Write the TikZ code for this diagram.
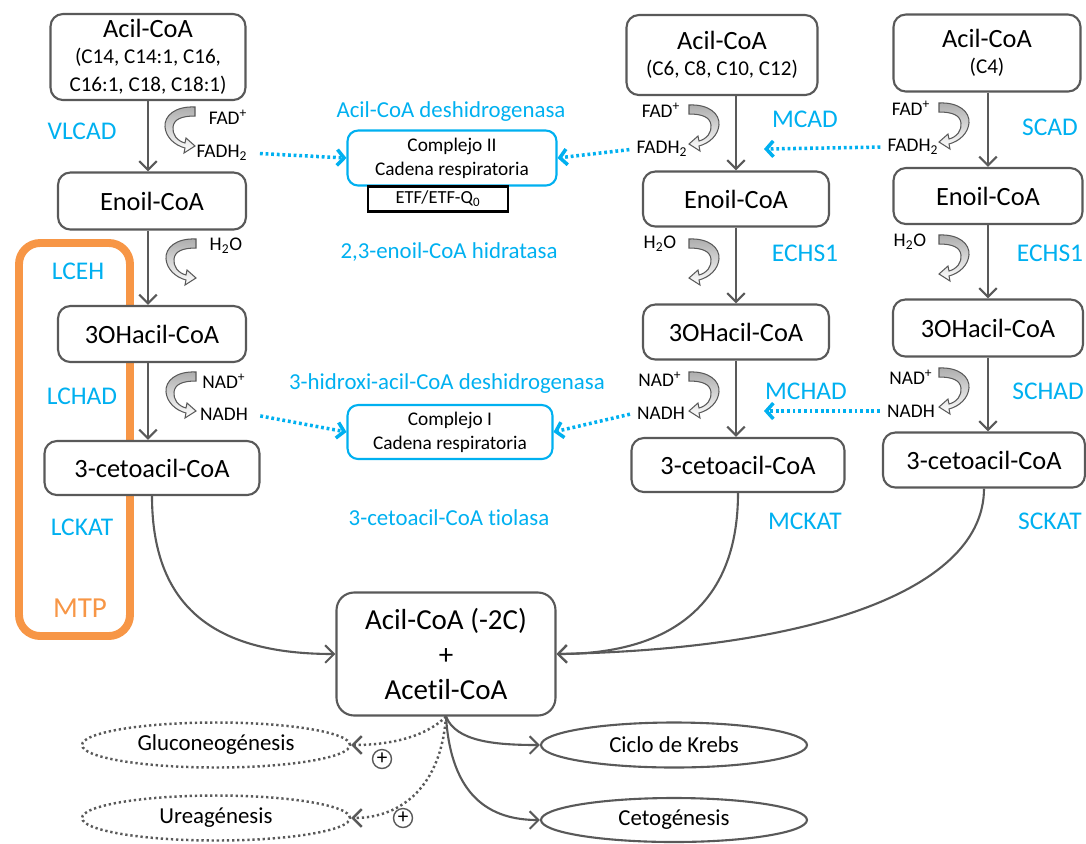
\documentclass[tikz,border=0pt]{standalone}
\usepackage{fontspec}
\setmainfont{Carlito}[Ligatures=NoCommon]
\usetikzlibrary{arrows.meta,shapes.geometric}
\definecolor{enzblue}{HTML}{00B0F0}
\definecolor{mtporange}{HTML}{F79646}
\definecolor{linegray}{HTML}{595959}
\newcommand\cofsz{\fontsize{11}{13}\selectfont}
\newcommand\chainsz{\fontsize{12}{13.6}\selectfont}
\tikzset{
  met/.style={draw=linegray, line width=1.2pt, rounded corners=7pt, fill=white,
    align=center, inner sep=0pt, font=\fontsize{15}{16}\selectfont},
  resp/.style={draw=enzblue, line width=1.2pt, rounded corners=6pt, fill=white,
    align=center, inner sep=0pt, font=\fontsize{11}{13.6}\selectfont},
  enz/.style={text=enzblue, font=\fontsize{14.5}{17}\selectfont},
  enzname/.style={text=enzblue, font=\fontsize{13}{15}\selectfont},
  cof/.style={inner sep=1pt, font=\cofsz},
  fate/.style={ellipse, draw=linegray, line width=1.2pt, inner sep=0pt,
    minimum width=5.32cm, minimum height=0.9cm, font=\fontsize{13}{15}\selectfont},
  dots/.style={line width=1.4pt, dash pattern=on 1.3pt off 1.6pt},
  flow/.style={draw=linegray, line width=1.2pt, -{Straight Barb[length=5pt,width=10pt]}},
  redox/.style={draw=enzblue, line width=2pt, dash pattern=on 1.6pt off 1.6pt,
    -{Straight Barb[length=4pt,width=9pt]}},
  cycarrow/.pic={
    \draw[linegray, line width=0.6pt, top color=gray!65, bottom color=white]
      (15,-21) .. controls (-5,-22) and (-16,-12) .. (-15,-1)
      .. controls (-14,9) and (-6,17) .. (5,20)
      -- (4,25) -- (15,18) -- (6,10) -- (5,15)
      .. controls (-3,13) and (-8,6) .. (-7,-1)
      .. controls (-6,-9) and (2,-12) .. (15,-12) -- cycle;
  }
}

\begin{document}
\begin{tikzpicture}[x=0.02cm, y=-0.02cm]
  \useasboundingbox (0,0) rectangle (1086,843);

  % MTP frame
  \draw[mtporange, line width=4.5pt, rounded corners=12pt] (19,243) rectangle (130,636);

  % Long chain
  \node[met, minimum width=3.9cm, minimum height=1.72cm] (acilL) at (148,57)
    {Acil-CoA\\[-1.5pt]{\chainsz (C14, C14:1, C16,}\\{\chainsz C16:1, C18, C18:1)}};
  \node[met, minimum width=3.76cm, minimum height=1.14cm] (enoilL) at (152,201) {Enoil-CoA};
  \node[met, minimum width=3.76cm, minimum height=1.12cm] (ohL) at (152,334) {3OHacil-CoA};
  \node[met, minimum width=4.3cm, minimum height=1.08cm] (cetoL) at (152,468) {3-cetoacil-CoA};

  % Medium chain
  \node[met, minimum width=3.82cm, minimum height=1.6cm] (acilM) at (722,55)
    {Acil-CoA\\[-1.4pt]{\chainsz (C6, C8, C10, C12)}};
  \node[met, minimum width=3.72cm, minimum height=1.1cm] (enoilM) at (736,199) {Enoil-CoA};
  \node[met, minimum width=3.72cm, minimum height=1.1cm] (ohM) at (736,332) {3OHacil-CoA};
  \node[met, minimum width=4.26cm, minimum height=1.08cm] (cetoM) at (738,465) {3-cetoacil-CoA};

  % Short chain
  \node[met, minimum width=3.74cm, minimum height=1.54cm] (acilS) at (987,53)
    {Acil-CoA\\[-1.4pt]{\chainsz (C4)}};
  \node[met, minimum width=3.78cm, minimum height=1.12cm] (enoilS) at (988,196) {Enoil-CoA};
  \node[met, minimum width=3.8cm, minimum height=1.14cm] (ohS) at (988,328) {3OHacil-CoA};
  \node[met, minimum width=4.04cm, minimum height=1.1cm] (cetoS) at (984,460) {3-cetoacil-CoA};

  % Product
  \node[met, rounded corners=10pt, minimum width=4.38cm, minimum height=2.46cm,
    font=\fontsize{16.5}{19.8}\selectfont] (prod) at (446,654) {Acil-CoA (-2C)\\+\\Acetil-CoA};

  % Respiratory chain
  \node[resp, minimum width=4.18cm, minimum height=1.1cm] (cII) at (452,158)
    {Complejo II\\Cadena respiratoria};
  \node[draw=black, line width=1.4pt, fill=white, inner sep=0pt, minimum width=2.8cm,
    minimum height=0.5cm, font=\fontsize{10.5}{12}\selectfont] (etf) at (438,199)
    {ETF/ETF-Q\textsubscript{0}};
  \node[resp, minimum width=4.1cm, minimum height=1.08cm] (cI) at (450,432)
    {Complejo I\\Cadena respiratoria};

  % Fates
  \node[fate] (krebs) at (674,745) {Ciclo de Krebs};
  \node[fate, minimum height=0.88cm] (cetog) at (674,820) {Cetogénesis};
  \node[fate, dots, minimum width=5.36cm] (gluco) at (216,745) {Gluconeogénesis};
  \node[fate, dots, minimum width=5.36cm] (urea) at (216,818) {Ureagénesis};
  \node[circle, draw=linegray, line width=0.8pt, inner sep=0pt, minimum size=0.38cm,
    font=\fontsize{12}{12}\selectfont] (plusG) at (382,759) {+};
  \node[circle, draw=linegray, line width=0.8pt, inner sep=0pt, minimum size=0.38cm,
    font=\fontsize{12}{12}\selectfont] (plusU) at (403,818) {+};

  % Enzymes
  \node[enz] (vlcad) at (82,131) {VLCAD};
  \node[enz] (lceh) at (78,271) {LCEH};
  \node[enz] (lchad) at (82,396) {LCHAD};
  \node[enz] (lckat) at (82,527) {LCKAT};
  \node[text=mtporange, font=\fontsize{16.5}{18}\selectfont] (mtp) at (80,608) {MTP};
  \node[enz] (mcad) at (805,119) {MCAD};
  \node[enz] (echsM) at (805,253) {ECHS1};
  \node[enz] (mchad) at (806,391) {MCHAD};
  \node[enz] (mckat) at (805,521) {MCKAT};
  \node[enz] (scad) at (1050,127) {SCAD};
  \node[enz] (echsS) at (1050,253) {ECHS1};
  \node[enz, anchor=east, inner xsep=1pt] (schad) at (1086,391) {SCHAD};
  \node[enz] (sckat) at (1050,521) {SCKAT};
  \node[enzname] (acd) at (451,112) {Acil-CoA deshidrogenasa};
  \node[enzname] (hyd) at (449,252) {2,3-enoil-CoA hidratasa};
  \node[enzname] (hadh) at (447,384) {3-hidroxi-acil-CoA deshidrogenasa};
  \node[enzname] (tio) at (449,518) {3-cetoacil-CoA tiolasa};

  % Cofactors
  \node[cof] (fadL) at (228,117) {FAD\textsuperscript{+}};
  \node[cof] (fadhL) at (222,153) {FADH\textsubscript{2}};
  \node[cof] (h2oL) at (226,246) {H\textsubscript{2}O};
  \node[cof] (nadL) at (224,381) {NAD\textsuperscript{+}};
  \node[cof] (nadhL) at (224,414) {NADH};
  \node[cof] (fadM) at (661,110) {FAD\textsuperscript{+}};
  \node[cof] (fadhM) at (662,149) {FADH\textsubscript{2}};
  \node[cof] (h2oM) at (660,244) {H\textsubscript{2}O};
  \node[cof] (nadM) at (660,379) {NAD\textsuperscript{+}};
  \node[cof] (nadhM) at (661,413) {NADH};
  \node[cof] (fadS) at (911,108) {FAD\textsuperscript{+}};
  \node[cof] (fadhS) at (913,147) {FADH\textsubscript{2}};
  \node[cof] (h2oS) at (910,242) {H\textsubscript{2}O};
  \node[cof] (nadS) at (911,377) {NAD\textsuperscript{+}};
  \node[cof] (nadhS) at (911,411) {NADH};

  \pic at (180,128) {cycarrow};
  \pic at (181,260) {cycarrow};
  \pic at (181,393) {cycarrow};
  \pic[xscale=-1] at (704,126) {cycarrow};
  \pic[xscale=-1] at (704,260) {cycarrow};
  \pic[xscale=-1] at (704,393) {cycarrow};
  \pic[xscale=-1] at (954,124) {cycarrow};
  \pic[xscale=-1] at (954,256) {cycarrow};
  \pic[xscale=-1] at (954,389) {cycarrow};

  % Spiral steps
  \draw[flow] (acilL.south) -- (enoilL.north -| acilL.south);
  \draw[flow] (enoilL.south -| acilL.south) -- (ohL.north -| acilL.south);
  \draw[flow] (ohL.south -| acilL.south) -- (cetoL.north -| acilL.south);
  \draw[flow] (acilM.south -| enoilM.north) -- (enoilM.north);
  \draw[flow] (enoilM.south) -- (ohM.north);
  \draw[flow] (ohM.south) -- (cetoM.north -| ohM.south);
  \draw[flow] (acilS.south -| enoilS.north) -- (enoilS.north);
  \draw[flow] (enoilS.south) -- (ohS.north);
  \draw[flow] (ohS.south) -- (cetoS.north -| ohS.south);

  % Electrons
  \coordinate (mcadin) at (764,149);
  \coordinate (mchadin) at (764,411);
  \draw[redox, shorten <=6pt] (fadhL.east) -- (cII.west);
  \draw[redox, shorten <=3pt] (fadhM.west) -- (cII.east);
  \draw[redox, shorten <=3pt] (fadhS.west) -- (mcadin);
  \draw[redox, shorten <=6pt] (nadhL.east) -- (cI.west);
  \draw[redox, shorten <=3pt] (nadhM.west) -- (cI.east);
  \draw[redox, shorten <=3pt] (nadhS.west) -- (mchadin);

  % To product
  \draw[flow] (cetoL.south) .. controls +(0,120) and +(-110,0) .. (prod.west);
  \draw[flow] (cetoM.south) .. controls +(0,115) and +(110,0) .. (prod.east);
  \draw[flow] (cetoS.south) .. controls +(0,100) and +(260,-5) .. (prod.east);

  % Fates
  \draw[flow] (prod.south) .. controls +(10,25) and +(-45,0) .. (krebs.west);
  \draw[flow] (prod.south) .. controls +(5,80) and +(-50,0) .. (cetog.west);
  \draw[flow, dots] (prod.south) .. controls +(-20,20) and +(40,0) .. (gluco.east);
  \draw[flow, dots] (prod.south) .. controls +(-5,70) and +(50,0) .. (urea.east);
\end{tikzpicture}
\end{document}
